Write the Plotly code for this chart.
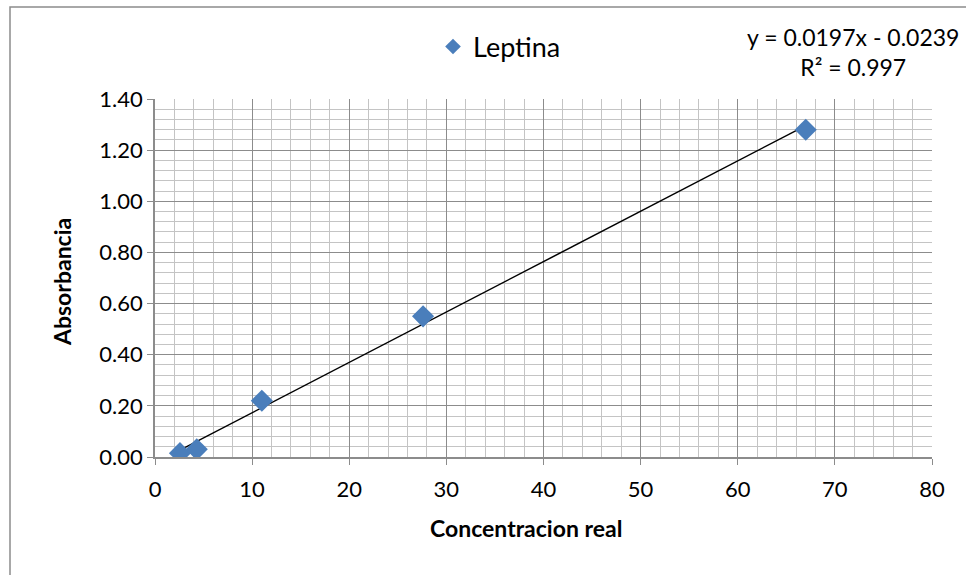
import plotly.graph_objects as go

# Data
conc = [2.57, 4.3, 11.0, 27.6, 67.0]
absorb = [0.015, 0.03, 0.22, 0.55, 1.28]
slope = 0.0197
intercept = -0.0239
r2 = 0.997
series_name = "Leptina"
x_title = "Concentracion real"
y_title = "Absorbancia"

trend_x = [min(conc), max(conc)]
trend_y = [slope * v + intercept for v in trend_x]

FONT = "Lato, Calibri, Carlito, sans-serif"

fig = go.Figure()
fig.add_trace(go.Scatter(
    x=trend_x, y=trend_y, mode="lines",
    line=dict(color="black", width=1.5), showlegend=False, hoverinfo="skip"))
fig.add_trace(go.Scatter(
    x=conc, y=absorb, mode="markers", name=series_name,
    marker=dict(symbol="diamond", size=17, color="#4A7EBB",
                line=dict(color="#4A7EBB", width=0))))

L, R, T, B = 155, 34, 99, 118
W, H = 966, 575
pw, ph = W - L - R, H - T - B

def px(x):
    return (x - L) / pw

def py(y):
    return (H - B - y) / ph

fig.update_layout(
    width=W, height=H,
    margin=dict(l=L, r=R, t=T, b=B),
    paper_bgcolor="white", plot_bgcolor="white",
    font=dict(family=FONT, size=22, color="black"),
    showlegend=True,
    legend=dict(x=px(433), y=py(47), xanchor="left", yanchor="middle",
                font=dict(size=27, family=FONT), bgcolor="rgba(0,0,0,0)",
                itemsizing="constant"),
    xaxis=dict(range=[0, 80], dtick=10, tick0=0, showgrid=True,
               gridcolor="#8c8c8c", gridwidth=1,
               minor=dict(dtick=2, showgrid=True, gridcolor="#c4c4c4", gridwidth=1),
               ticks="outside", ticklen=6, tickcolor="#8c8c8c",
               ticklabelstandoff=6,
               showline=True, linecolor="#8c8c8c", linewidth=1.5,
               zeroline=False, tickfont=dict(size=22, family=FONT)),
    yaxis=dict(range=[0, 1.4], dtick=0.2, tick0=0, tickformat=".2f", showgrid=True,
               gridcolor="#8c8c8c", gridwidth=1,
               minor=dict(dtick=0.04, showgrid=True, gridcolor="#c4c4c4", gridwidth=1),
               ticks="outside", ticklen=6, tickcolor="#8c8c8c",
               showline=True, linecolor="#8c8c8c", linewidth=1.5,
               zeroline=False, tickfont=dict(size=22, family=FONT)),
    annotations=[
        dict(xref="paper", yref="paper", x=px(853), y=py(52),
             xanchor="center", yanchor="middle", align="center", showarrow=False,
             text="y = %.4fx - %.4f<br>R² = %.3f" % (slope, -intercept, r2),
             font=dict(size=23, family=FONT, color="black")),
        dict(xref="paper", yref="paper", x=px(526), y=py(528),
             xanchor="center", yanchor="middle", showarrow=False,
             text="<b>" + x_title + "</b>",
             font=dict(size=23, family=FONT, color="black")),
        dict(xref="paper", yref="paper", x=px(62), y=py(282),
             xanchor="center", yanchor="middle", showarrow=False, textangle=-90,
             text="<b>" + y_title + "</b>",
             font=dict(size=23, family=FONT, color="black")),
    ],
    shapes=[dict(type="rect", xref="paper", yref="paper",
                 x0=px(10), y0=py(590), x1=px(990), y1=py(7),
                 line=dict(color="#8c8c8c", width=1.5), fillcolor="rgba(0,0,0,0)",
                 layer="below")],
)

fig.write_html("out.html", config={"displayModeBar": False},
               post_script="document.body.style.margin='0';document.body.style.padding='0';")
